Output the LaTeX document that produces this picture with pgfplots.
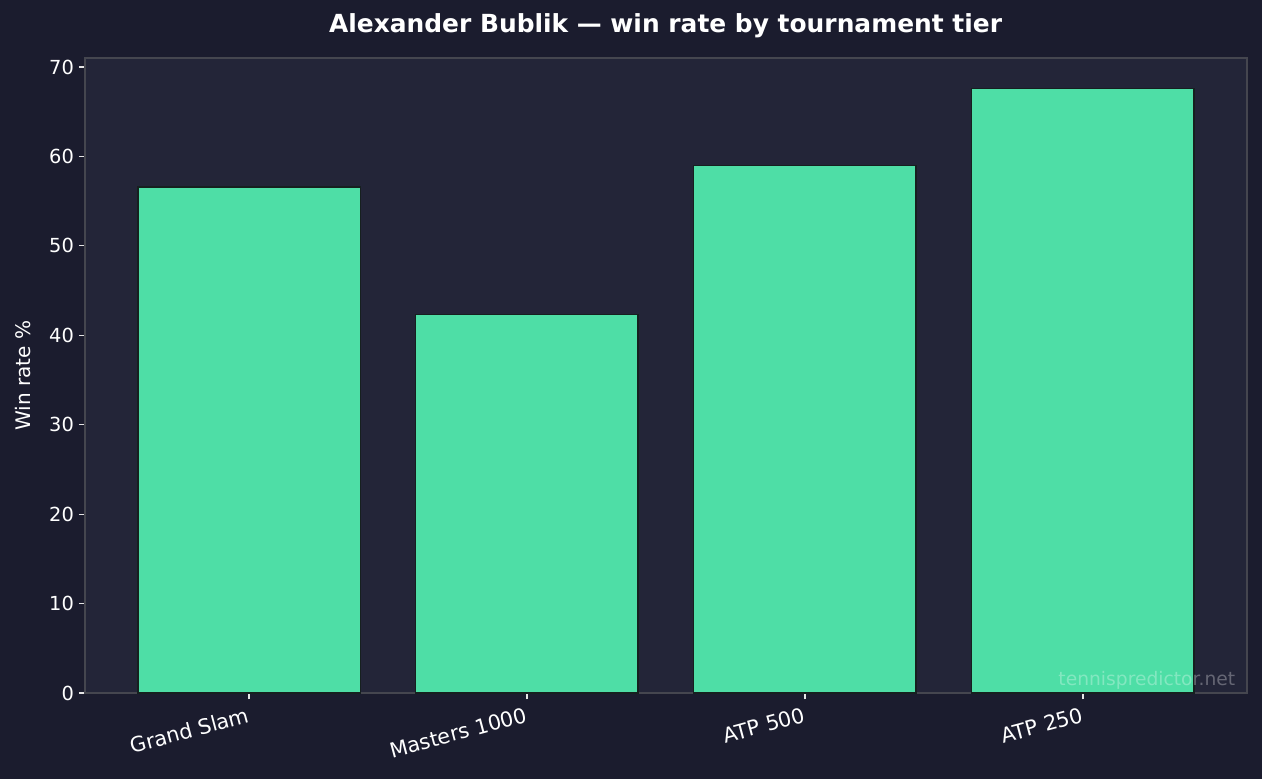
\documentclass[border=0pt]{standalone}
\usepackage{pgfplots}
\pgfplotsset{compat=1.18}
\usepackage{fontspec}
\setmainfont{DejaVu Sans}

\definecolor{figbg}{HTML}{1B1C2E}
\definecolor{axbg}{HTML}{232538}
\definecolor{spine}{HTML}{45464F}
\definecolor{barfill}{HTML}{4EDEA6}
\definecolor{baredge}{HTML}{16201F}

\pgfplotstableread{
x  rate
0  56.6
1  42.3
2  59.0
3  67.6
}\tierdata

\begin{document}
\begin{tikzpicture}
\fill[figbg] (0,0) rectangle (908.64bp,560.88bp);
\begin{axis}[
    at={(61.2bp,61.9bp)}, anchor=south west,
    scale only axis,
    width=836.6bp, height=457.2bp,
    axis background/.style={fill=axbg},
    axis line style={draw=spine, line width=1bp},
    xmin=-0.59, xmax=3.59,
    ymin=0, ymax=71,
    xtick={0,1,2,3},
    xticklabels={Grand Slam, Masters 1000, ATP 500, ATP 250},
    ytick={0,10,...,70},
    tick align=outside,
    tick pos=left,
    major tick length=4.5bp,
    tick style={draw=white!90!black, line width=0.9bp},
    /pgf/number format/assume math mode=true,
    y tick label style={font=\fontsize{14}{16}\selectfont, text=white},
    x tick label style={font=\fontsize{15}{17}\selectfont, text=white,
        rotate=15, anchor=north east, inner sep=2bp, xshift=-1bp, yshift=-2.5bp},
]
\addplot[ybar, bar width=0.8, fill=barfill, draw=baredge, line width=1bp]
    table[x=x, y=rate] {\tierdata};
\end{axis}
\node[rotate=90, text=white, font=\fontsize{14.5}{16}\selectfont] at (16.6bp,290.5bp) {Win rate \%};
\node[text=white, font=\fontsize{18}{20}\bfseries] at (479.2bp,542.2bp) {Alexander Bublik — win rate by tournament tier};
\node[anchor=base east, inner sep=0pt, text=white, opacity=0.3, font=\fontsize{13.5}{15}\selectfont] at (889.5bp,67.5bp) {tennispredictor.net};
\pgfresetboundingbox
\path (0,0) rectangle (908.64bp,560.88bp);
\end{tikzpicture}
\end{document}
